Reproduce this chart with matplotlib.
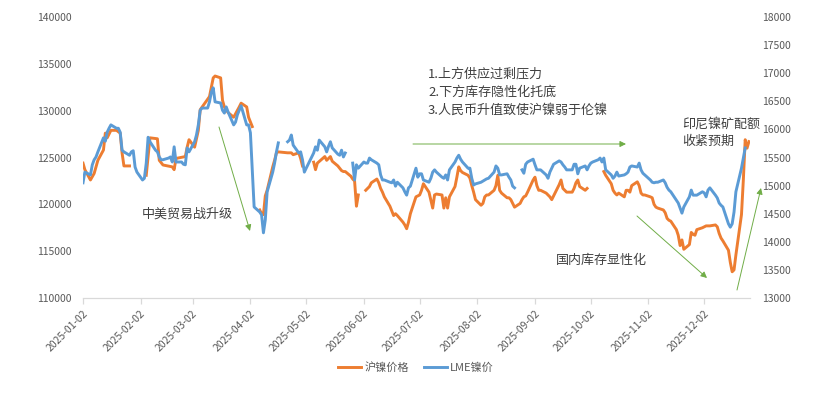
import numpy as np
import matplotlib
matplotlib.use("Agg")
import matplotlib.pyplot as plt
import matplotlib.dates as mdates
from matplotlib.transforms import ScaledTranslation
import datetime as dt

plt.rcParams['font.family'] = ['Noto Sans CJK SC', 'DejaVu Sans']

# ---------------- data ----------------
# 沪镍价格 (SHFE, CNY/t, left axis); None = no trading (holiday gap)
sh_dates = ["01-02","01-03","01-06","01-08","01-10","01-13","01-14","01-15","01-17","01-20","01-22","01-23","01-24","01-27","01-30",
    "02-05","02-07","02-11","02-12","02-14","02-19","02-20","02-21","02-26","02-27","02-28","03-03","03-05","03-06","03-11","03-13","03-14","03-17","03-18","03-19","03-21","03-24","03-27","03-28","03-31","04-01","04-03","04-04",
    "04-07","04-08","04-09","04-10","04-11","04-14","04-15","04-16","04-17","04-22","04-24","04-25","04-28","04-29","04-30","05-02",
    "05-06","05-07","05-08","05-12","05-13","05-15","05-16","05-19","05-21","05-22","05-23","05-26","05-27","05-28","05-29","05-30","06-01",
    "06-03","06-05","06-06","06-09","06-10","06-11","06-12","06-13","06-16","06-17","06-18","06-19","06-20","06-23","06-24","06-25","06-26","06-27","06-30",
    "07-01","07-02","07-03","07-04","07-07","07-09","07-10","07-11","07-14","07-15","07-16","07-17","07-18","07-21","07-22","07-23","07-24","07-25","07-28","07-29","07-30","07-31",
    "08-01","08-04","08-05","08-06","08-07","08-08","08-11","08-12","08-13","08-14","08-15","08-18","08-19","08-20","08-21","08-22","08-25","08-26","08-27","08-28","08-29",
    "09-01","09-02","09-03","09-04","09-05","09-08","09-09","09-10","09-11","09-12","09-15","09-16","09-17","09-18","09-19","09-22","09-23","09-24","09-25","09-26","09-29","09-30","10-03",
    "10-09","10-10","10-13","10-14","10-15","10-16","10-17","10-20","10-21","10-22","10-23","10-24","10-27","10-28","10-29","10-30","10-31",
    "11-03","11-04","11-05","11-06","11-07","11-10","11-11","11-12","11-13","11-14","11-17","11-18","11-19","11-20","11-21","11-24","11-25","11-26","11-27","11-28",
    "12-01","12-02","12-03","12-04","12-05","12-08","12-09","12-10","12-11","12-12","12-15","12-16","12-17","12-18","12-19","12-22","12-23","12-24","12-25","12-26"]
sh_values = [124400,123700,122600,123300,124700,125800,127600,127100,127900,127900,127600,125500,124100,124100,None,
    123100,127100,127000,124700,124200,124000,123700,124900,125100,126100,126900,126100,127900,130100,131500,133500,133700,133500,131100,130400,129800,129300,130400,130800,130400,129300,128300,None,
    119400,119000,118900,120900,121500,124000,124700,125500,125600,125500,125500,125300,125500,124900,124100,None,
    124500,123700,124400,125100,124700,125100,124600,124100,123600,123500,123500,123000,122700,122500,119800,121000,None,
    121500,121900,122300,122700,122300,121700,121300,120800,119800,119300,118800,119000,118800,118100,117800,117400,118100,119000,120800,
    120900,121000,121500,122200,121300,119600,121000,121100,121000,119600,120700,119600,120800,121900,122900,124000,123600,123400,123100,122800,122000,121300,
    120500,119900,120100,120800,121000,121000,121500,122000,123100,121500,121200,120700,120700,120500,120100,119700,120100,120500,120800,120900,121300,
    122600,122900,122000,121500,121500,121200,121000,120800,120500,120900,122100,122600,121700,121500,121300,121300,121700,122300,122600,121900,121500,121700,None,
    123500,123100,122200,121500,121200,121000,121200,120800,121500,121500,121300,122000,122400,122000,121200,121000,121000,
    120800,120700,120000,119700,119600,119400,119100,118500,118300,118200,117300,116700,115600,116200,115200,115700,117000,116800,116700,117300,
    117500,117600,117700,117700,117700,117800,117600,116900,116400,116100,115100,113800,112800,113000,114600,118900,122600,126900,126000,126700]

# LME镍价 (USD/t, right axis)
lme_dates = ["01-02","01-03","01-06","01-07","01-08","01-09","01-10","01-13","01-14","01-15","01-16","01-17","01-20","01-21","01-22","01-23","01-24","01-27","01-28","01-29","01-30","01-31",
    "02-03","02-04","02-05","02-06","02-07","02-10","02-11","02-12","02-13","02-14","02-17","02-18","02-19","02-20","02-21","02-24","02-25","02-26","02-27","02-28",
    "03-03","03-04","03-05","03-06","03-07","03-10","03-11","03-12","03-13","03-14","03-17","03-18","03-19","03-20","03-21","03-24","03-25","03-26","03-27","03-28","03-31",
    "04-01","04-02","04-03","04-04","04-07","04-08","04-09","04-10","04-11","04-14","04-15","04-16","04-17","04-19","04-22","04-23","04-24","04-25","04-28","04-29","04-30",
    "05-01","05-02","05-06","05-07","05-08","05-09","05-12","05-13","05-14","05-15","05-16","05-19","05-20","05-21","05-22","05-23","05-26","05-27","05-28","05-29","05-30",
    "06-02","06-03","06-04","06-05","06-06","06-09","06-10","06-11","06-12","06-13","06-16","06-17","06-18","06-19","06-20","06-23","06-24","06-25","06-26","06-27","06-30",
    "07-01","07-02","07-03","07-04","07-07","07-08","07-09","07-10","07-11","07-14","07-15","07-16","07-17","07-18","07-21","07-22","07-23","07-24","07-25","07-28","07-29","07-30","07-31",
    "08-01","08-04","08-05","08-06","08-07","08-08","08-11","08-12","08-13","08-14","08-15","08-18","08-19","08-20","08-21","08-22","08-25","08-26","08-27","08-28","08-29",
    "09-01","09-02","09-03","09-04","09-05","09-08","09-09","09-10","09-11","09-12","09-15","09-16","09-17","09-18","09-19","09-22","09-23","09-24","09-25","09-26","09-29","09-30",
    "10-01","10-02","10-03","10-06","10-07","10-08","10-09","10-10","10-13","10-14","10-15","10-16","10-17","10-20","10-21","10-22","10-23","10-24","10-27","10-28","10-29","10-30","10-31",
    "11-03","11-04","11-05","11-06","11-07","11-10","11-11","11-12","11-13","11-14","11-17","11-18","11-19","11-20","11-21","11-24","11-25","11-26","11-27","11-28",
    "12-01","12-02","12-03","12-04","12-05","12-08","12-09","12-10","12-11","12-12","12-15","12-16","12-17","12-18","12-19","12-22","12-23","12-24"]
lme_values = [15050,15240,15190,15370,15460,15510,15600,15850,15790,15950,16020,16080,16020,16020,15950,15630,15600,15540,15600,15620,15330,15240,
    15100,15130,15400,15860,15780,15630,15600,15510,15460,15460,15490,15510,15420,15690,15420,15420,15380,15370,15670,15600,
    15780,15900,16080,16340,16380,16380,16490,16660,16740,16490,16470,16340,16290,16400,16310,16080,16130,16260,16340,16420,16080,
    16080,15940,15280,14620,14530,14480,14160,14390,14890,15240,15400,15600,15760,None,15780,15810,15900,15720,15580,15600,15460,
    15240,15310,15580,15690,15630,15810,15690,15600,15700,15780,15670,15560,15540,15630,15510,15580,None,15400,15100,15370,15310,
    15420,15400,15400,15490,15460,15400,15370,15190,15100,15100,15060,15050,15100,14990,15060,14960,14890,14830,14960,14990,15310,
    15150,15210,15210,15100,15060,15130,15240,15280,15240,15150,15130,15190,15100,15280,15420,15490,15540,15470,15420,15310,15310,15130,15010,
    15030,15060,15080,15100,15120,15130,15240,15350,15310,15190,15190,15210,15150,15100,14990,14960,None,15280,15220,15380,15420,
    15470,15370,15280,15280,15280,15190,15130,15240,15310,15380,15440,15420,15370,15330,15280,15280,15380,15380,15210,15310,15350,15280,
    15350,15400,15420,15460,15490,15420,15490,15280,15190,15130,15170,15240,15170,15190,15210,15240,15330,15350,15330,15400,15280,15220,15190,
    15100,15060,15050,15060,15060,15100,15050,14970,14920,14890,14740,14690,14600,14510,14620,14800,14920,14830,14830,14830,
    14890,14870,14800,14920,14960,14830,14780,14690,14650,14620,14320,14260,14320,14530,14890,15310,15490,15670]

x_tick_labels = ["2025-01-02","2025-02-02","2025-03-02","2025-04-02","2025-05-02","2025-06-02",
                 "2025-07-02","2025-08-02","2025-09-02","2025-10-02","2025-11-02","2025-12-02"]
series_names = ["沪镍价格", "LME镍价"]

def to_dates(lst):
    return [dt.datetime.strptime("2025-" + s, "%Y-%m-%d") for s in lst]

def to_arr(lst):
    return np.array([np.nan if v is None else v for v in lst], dtype=float)

# ---------------- figure ----------------
W, H = 831, 394
fig = plt.figure(figsize=(W / 100, H / 100), dpi=100)
ax = fig.add_axes([83 / W, (H - 298) / H, 667 / W, 281 / H])
ax2 = ax.twinx()

c_or = '#ED7D31'
c_bl = '#5B9BD5'
tick_c = '#595959'
grid_c = '#D9D9D9'

l1, = ax.plot(to_dates(sh_dates), to_arr(sh_values), color=c_or, lw=2.1, solid_joinstyle='round')
l2, = ax2.plot(to_dates(lme_dates), to_arr(lme_values), color=c_bl, lw=2.1, solid_joinstyle='round')

ax.set_ylim(110000, 140000)
ax2.set_ylim(13000, 18000)
ax.set_yticks(np.arange(110000, 140001, 5000))
ax2.set_yticks(np.arange(13000, 18001, 500))
ax.set_xlim(dt.datetime(2025, 1, 2), dt.datetime(2025, 12, 26, 14))

ticks = [dt.datetime.strptime(s, "%Y-%m-%d") for s in x_tick_labels]
ax.set_xticks(ticks)
ax.set_xticklabels(x_tick_labels, rotation=45, ha='right', va='center', rotation_mode='anchor')

for a in (ax, ax2):
    for s in a.spines.values():
        s.set_visible(False)
ax.spines['bottom'].set_visible(True)
ax.spines['bottom'].set_color(grid_c)
ax.spines['bottom'].set_linewidth(0.9)

ax.tick_params(axis='x', direction='out', length=4, width=0.9, color=grid_c,
               labelsize=7.5, labelcolor=tick_c, pad=6)
ax.tick_params(axis='y', length=0, labelsize=7.5, labelcolor=tick_c, pad=8)
ax2.tick_params(axis='y', length=0, labelsize=7.5, labelcolor=tick_c, pad=9)

off = ScaledTranslation(3 / 100, 0, fig.dpi_scale_trans)
for lab in ax.get_xticklabels():
    lab.set_transform(lab.get_transform() + off)

# legend
leg = fig.legend([l1, l2], series_names, loc='center', bbox_to_anchor=(416 / W, 1 - 367 / H),
                 ncol=2, frameon=False, fontsize=8, handlelength=2.1, handletextpad=0.3,
                 columnspacing=1.3, labelcolor=tick_c)

# annotations
txt_c = '#404040'
def ftext(x, y, s):
    fig.text(x / W, 1 - y / H, s, ha='left', va='center', fontsize=9.4, color=txt_c)

ftext(428, 74, "1.上方供应过剩压力")
ftext(428, 92, "2.下方库存隐性化托底")
ftext(428, 110, "3.人民币升值致使沪镍弱于伦镍")
ftext(682, 124, "印尼镍矿配额")
ftext(682, 141, "收紧预期")
ftext(142, 214, "中美贸易战升级")
ftext(556, 260, "国内库存显性化")

arr_c = '#70AD47'
def farrow(x1, y1, x2, y2):
    ax.annotate('', xy=(x2 / W, 1 - y2 / H), xytext=(x1 / W, 1 - y1 / H),
                xycoords='figure fraction', textcoords='figure fraction',
                annotation_clip=False,
                arrowprops=dict(arrowstyle='-|>', color=arr_c, lw=0.7,
                                mutation_scale=9, shrinkA=0, shrinkB=0))

farrow(219, 127, 250, 231)
farrow(413, 144, 626, 144)
farrow(637, 216, 707, 278)
farrow(737, 290, 761, 188)

fig.savefig("out.png", dpi=100)
